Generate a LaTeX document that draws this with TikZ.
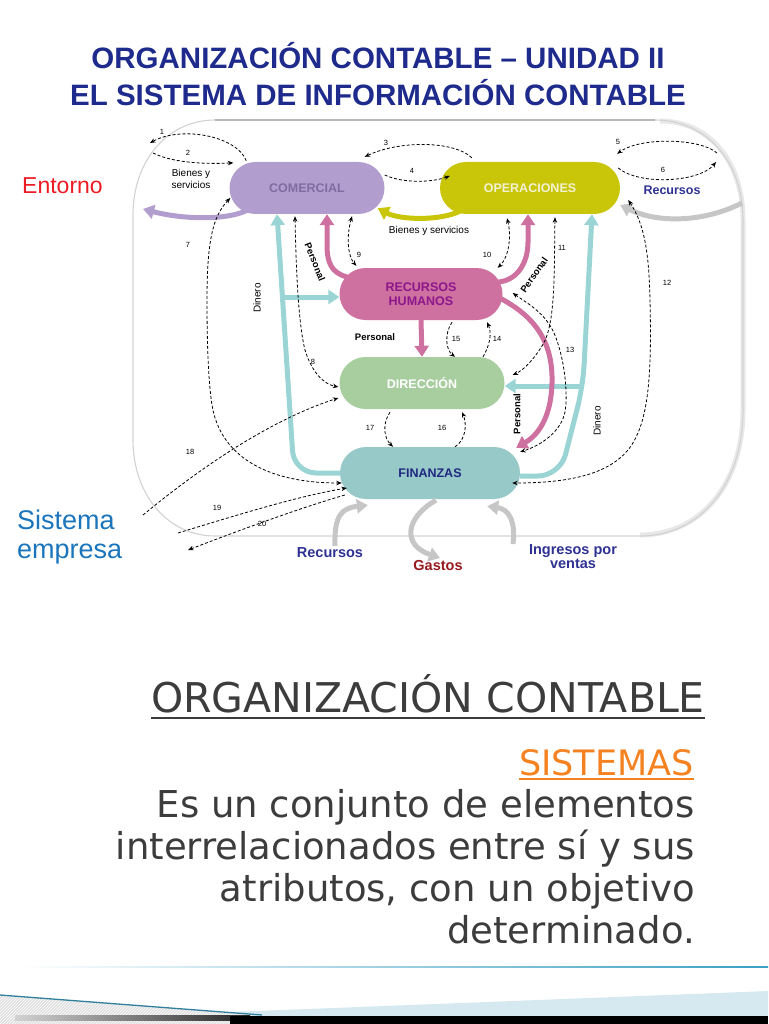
\documentclass[tikz,border=0pt]{standalone}
\usepackage{fontspec}
\setmainfont{Liberation Sans}
\newfontfamily\bodyfont{DejaVu Sans}
\usepackage{tikz}
\usetikzlibrary{arrows.meta,calc,patterns}

\definecolor{titleblue}{RGB}{30,42,140}
\definecolor{lav}{RGB}{178,158,206}
\definecolor{lavtext}{RGB}{128,108,160}
\definecolor{olive}{RGB}{201,198,10}
\definecolor{olivetext}{RGB}{242,242,210}
\definecolor{mauve}{RGB}{206,112,160}
\definecolor{mauvetext}{RGB}{140,22,140}
\definecolor{sage}{RGB}{168,206,160}
\definecolor{tealfill}{RGB}{150,201,200}
\definecolor{tealarrow}{RGB}{155,212,212}
\definecolor{navytext}{RGB}{32,40,130}
\definecolor{labelblue}{RGB}{46,49,146}
\definecolor{gastored}{RGB}{150,25,30}
\definecolor{entred}{RGB}{236,28,36}
\definecolor{empblue}{RGB}{27,117,188}
\definecolor{orangehead}{RGB}{245,130,32}
\definecolor{darktext}{RGB}{60,60,60}
\definecolor{arrowgray}{RGB}{198,198,198}
\definecolor{footteal}{RGB}{58,160,195}
\definecolor{footblue}{RGB}{214,233,240}

\begin{document}
\begin{tikzpicture}[x=1pt,y=-1pt,
    dept/.style={rounded corners=26pt, minimum height=52pt, inner sep=0pt,
      font=\bfseries\fontsize{12.5}{14}\selectfont, align=center},
    flow/.style={line width=5pt, -{Triangle[length=11pt,width=14pt]}},
    info/.style={line width=0.8pt, dash pattern=on 3pt off 2pt,
      -{Stealth[length=5.5pt,width=4.5pt]}},
    infob/.style={info, {Stealth[length=5.5pt,width=4.5pt]}-{Stealth[length=5.5pt,width=4.5pt]}},
    num/.style={font=\fontsize{7.5}{8}\selectfont, inner sep=0pt},
    small/.style={font=\fontsize{10}{12}\selectfont, inner sep=0pt, align=center},
    pers/.style={font=\bfseries\fontsize{9.5}{11}\selectfont, inner sep=0pt},
    outside/.style={font=\bfseries\fontsize{14.5}{14}\selectfont, inner sep=0pt, align=center}]
  \useasboundingbox (0,0) rectangle (768,1024);

  % title
  \node[titleblue, font=\bfseries\fontsize{29.5}{34}\selectfont] (t1) at (378,56) {ORGANIZACIÓN CONTABLE – UNIDAD II};
  \node[titleblue, font=\bfseries\fontsize{29.5}{34}\selectfont] (t2) at (378,93) {EL SISTEMA DE INFORMACIÓN CONTABLE};

  % frame of the company
  \draw[gray!18, line width=5pt] (660,121) .. controls (708,121) and (743,160) .. (743,220) -- (743,410) .. controls (743,485) and (700,535) .. (640,535);
  \draw[gray!35, line width=1.1pt] (215,120) -- (655,120) .. controls (705,120) and (743,160) .. (743,220) -- (743,410)
    .. controls (743,485) and (700,536) .. (640,536) -- (215,536) .. controls (168,536) and (133,495) .. (133,440)
    -- (133,215) .. controls (133,160) and (168,120) .. (215,120) -- cycle;
  \draw[gray!55, line width=1.4pt] (215,120) -- (655,120);

  % areas
  \node[dept, fill=lav, text=lavtext, minimum width=155pt] (com) at (307,188) {COMERCIAL};
  \node[dept, fill=olive, text=olivetext, minimum width=180pt] (ope) at (530,188) {OPERACIONES};
  \node[dept, fill=mauve, text=mauvetext, minimum width=163pt] (rh) at (421,294) {RECURSOS\\HUMANOS};
  \node[dept, fill=sage, text=white, minimum width=165pt] (dir) at (422,383) {DIRECCIÓN};
  \node[dept, fill=tealfill, text=navytext, minimum width=180pt] (fin) at (430,473) {FINANZAS};

  % free ends
  \coordinate (ent) at (143,209);
  \coordinate (dl) at (285,297);
  \coordinate (dr) at (583,386);
  \coordinate (gr1) at (742,203);
  \coordinate (gr2) at (335,546);
  \coordinate (gr3) at (440,558);
  \coordinate (gr4) at (513,544);
  \coordinate (d1) at (150,143);
  \coordinate (d2) at (153,153);
  \coordinate (d5) at (717,153);
  \coordinate (d6) at (716,162);
  \coordinate (d18) at (143,515);
  \coordinate (d19) at (178,533);
  \coordinate (d20) at (188,550);

  % goods and money
  \draw[flow, lav] ($(com.south west)+(18,-4)$) .. controls (228,220) and (185,220) .. (ent);
  \draw[flow, olive] ($(ope.south west)+(20,-3)$) .. controls (440,221) and (400,220) .. ($(com.south east)+(-7,-6)$);
  \draw[flow, tealarrow, rounded corners=22pt] (fin.west) -- (294,473) -- ($(com.south)+(-30,0)$);
  \draw[flow, tealarrow] (dl) -- ($(rh.west)+(0,3)$);
  \draw[flow, tealarrow, rounded corners=22pt] ($(fin.east)+(0,3)$) -- (560,476) -- (dr) -- ($(ope.south)+(62,0)$);
  \draw[flow, tealarrow] (dr) -- ($(dir.east)+(0,3)$);
  \draw[flow, mauve] ($(rh.west)+(8,-17)$) .. controls (331,273) and (327,262) .. (327,245) -- ($(com.south)+(20,0)$);
  \draw[flow, mauve] ($(rh.east)+(-4,-12)$) .. controls (518,280) and (528,262) .. (528,242) -- ($(ope.south)+(-2,0)$);
  \draw[flow, mauve] (rh.south) -- (dir.north);
  \draw[flow, mauve] ($(rh.east)+(-3,4)$) .. controls (538,318) and (553,345) .. (552,383) .. controls (551,418) and (538,435) .. ($(fin.north east)+(-4,1)$);
  \draw[flow, arrowgray] (gr1) .. controls (700,224) and (655,222) .. ($(ope.east)+(0,17)$);
  \draw[flow, arrowgray] (gr2) .. controls (334,515) and (342,508) .. ($(fin.south west)+(28,6)$);
  \draw[flow, arrowgray] ($(fin.south)+(6,1)$) .. controls (405,518) and (402,545) .. (gr3);
  \draw[flow, arrowgray] (gr4) .. controls (516,520) and (508,509) .. ($(fin.south east)+(-33,7)$);

  % information
  \draw[info] ($(com.north west)+(17,-1)$) .. controls (236,135) and (180,126) .. (d1);
  \draw[info] (d2) .. controls (175,164) and (212,164) .. ($(com.north west)+(4,1)$);
  \draw[info] ($(ope.north west)+(32,-4)$) .. controls (455,141) and (400,140) .. ($(com.north east)+(-20,-5)$);
  \draw[info] ($(com.east)+(0,-13)$) .. controls (402,183) and (430,183) .. ($(ope.west)+(10,-12)$);
  \draw[info] (d5) .. controls (700,138) and (640,137) .. ($(ope.north east)+(-3,-8)$);
  \draw[info] ($(ope.east)+(-2,-20)$) .. controls (640,186) and (700,182) .. (d6);
  \draw[infob] ($(com.west)+(1,10)$) .. controls (213,216) and (207,240) .. (207,300) .. controls (207,355) and (209,385) .. (212,405)
    .. controls (220,455) and (265,483) .. ($(fin.west)+(2,10)$);
  \draw[infob] ($(com.south)+(-12,2)$) .. controls (296,265) and (298,322) .. (305,350) .. controls (312,373) and (324,384) .. ($(dir.west)+(-1,4)$);
  \draw[infob] ($(com.south)+(45,2)$) .. controls (346,238) and (348,256) .. ($(rh.north west)+(17,-2)$);
  \draw[infob] ($(ope.south)+(-23,4)$) .. controls (512,238) and (508,258) .. ($(rh.north east)+(-5,0)$);
  \draw[infob] ($(ope.south)+(25,3)$) .. controls (554,270) and (556,325) .. (542,346) .. controls (532,362) and (522,371) .. ($(dir.north east)+(8,18)$);
  \draw[infob] ($(ope.east)+(8,12)$) .. controls (645,225) and (649,255) .. (650,300) .. controls (652,380) and (648,425) .. (628,450)
    .. controls (608,474) and (570,483) .. ($(fin.east)+(-8,10)$);
  \draw[infob] ($(rh.east)+(10,-1)$) .. controls (530,305) and (548,315) .. (556,338) .. controls (565,362) and (568,395) .. (565,412)
    .. controls (561,432) and (540,446) .. ($(fin.north east)+(0,5)$);
  \draw[info] ($(dir.north)+(61,0)$) .. controls (490,345) and (492,333) .. ($(rh.south)+(66,2)$);
  \draw[info] ($(rh.south)+(31,2)$) .. controls (444,334) and (446,350) .. ($(dir.north)+(33,0)$);
  \draw[info] ($(fin.north)+(25,0)$) .. controls (466,440) and (467,424) .. ($(dir.south)+(40,3)$);
  \draw[info] ($(dir.south)+(-32,3)$) .. controls (382,424) and (384,438) .. ($(fin.north)+(-37,0)$);
  \draw[info] (d18) .. controls (200,468) and (270,420) .. ($(dir.west)+(-1,15)$);
  \draw[info] (d19) .. controls (250,511) and (300,496) .. ($(fin.west)+(7,15)$);
  \draw[info] ($(fin.west)+(5,22)$) .. controls (300,508) and (240,530) .. (d20);

  % numbers of the flows
  \foreach \n/\x/\y in {1/162/132, 2/188/153, 3/386/143, 4/412/171, 5/618/142, 6/663/170, 7/188/245,
      8/313/362, 9/359/255, 10/487/255, 11/562/248, 12/667/283, 13/570/350, 14/497/339, 15/456/339,
      16/442/428, 17/370/428, 18/190/452, 19/217/508, 20/262/524}
    \node[num] (n\n) at (\x,\y) {\n};

  % labels
  \node[small] (bys1) at (191,179) {Bienes y\\servicios};
  \node[small] (bys2) at (429,231) {Bienes y servicios};
  \node[pers] (p1) at (375,337) {Personal};
  \node[pers, rotate=-68] (p2) at (315,262) {Personal};
  \node[pers, rotate=55] (p3) at (534,275) {Personal};
  \node[pers, rotate=90] (p4) at (517,414) {Personal};
  \node[small, rotate=90] (din1) at (257,298) {Dinero};
  \node[small, rotate=90] (din2) at (597,421) {Dinero};
  \node[outside, labelblue, font=\bfseries\fontsize{12.5}{14}\selectfont] (rec1) at (672,190) {Recursos};
  \node[outside, labelblue] (rec2) at (330,553) {Recursos};
  \node[outside, gastored] (gas) at (438,566) {Gastos};
  \node[outside, labelblue] (ing) at (573,557) {Ingresos por\\ventas};
  \node[entred, anchor=west, inner sep=0pt, font=\fontsize{23}{26}\selectfont] (entl) at (22,186) {Entorno};
  \node[empblue, anchor=west, inner sep=0pt, align=left, font=\fontsize{27}{29}\selectfont] (sis) at (17,537) {Sistema\\empresa};

  % text of the slide
  \node[darktext, anchor=base, inner sep=0pt, font=\bodyfont\fontsize{41}{48}\selectfont] (head) at (428,712) {ORGANIZACIÓN CONTABLE};
  \draw[darktext, line width=2.5pt] ($(head.base west)+(0,6)$) to ($(head.base east)+(0,6)$);
  \node[orangehead, anchor=base east, inner sep=0pt, font=\bodyfont\fontsize{35}{40}\selectfont] (sist) at (694,775) {SISTEMAS};
  \draw[orangehead, line width=2pt] ($(sist.base west)+(0,4)$) to ($(sist.base east)+(0,4)$);
  \node[darktext, anchor=north east, inner sep=0pt, align=right, font=\bodyfont\fontsize{37}{42}\selectfont] (def) at (695,789)
    {Es un conjunto de elementos\\interrelacionados entre sí y sus\\atributos, con un objetivo\\determinado.};

  % footer
  \shade[left color=white, right color=footteal] (20,966.2) rectangle (768,967.8);
  \fill[footblue] (230,1012) -- (768,991) -- (768,1016) -- (230,1016) -- cycle;
  \fill[gray!25] (0,995) -- (252,1014.5) -- (252,1024) -- (0,1024) -- cycle;
  \fill[pattern=north east lines, pattern color=white] (0,995) -- (252,1014.5) -- (252,1024) -- (0,1024) -- cycle;
  \shade[left color=gray!35, right color=black!85] (15,1015) rectangle (250,1020);
  \fill[black] (230,1016) rectangle (768,1024);
  \draw[footteal!80!black, line width=1.3pt] (0,995) -- (262,1015);
\end{tikzpicture}
\end{document}
